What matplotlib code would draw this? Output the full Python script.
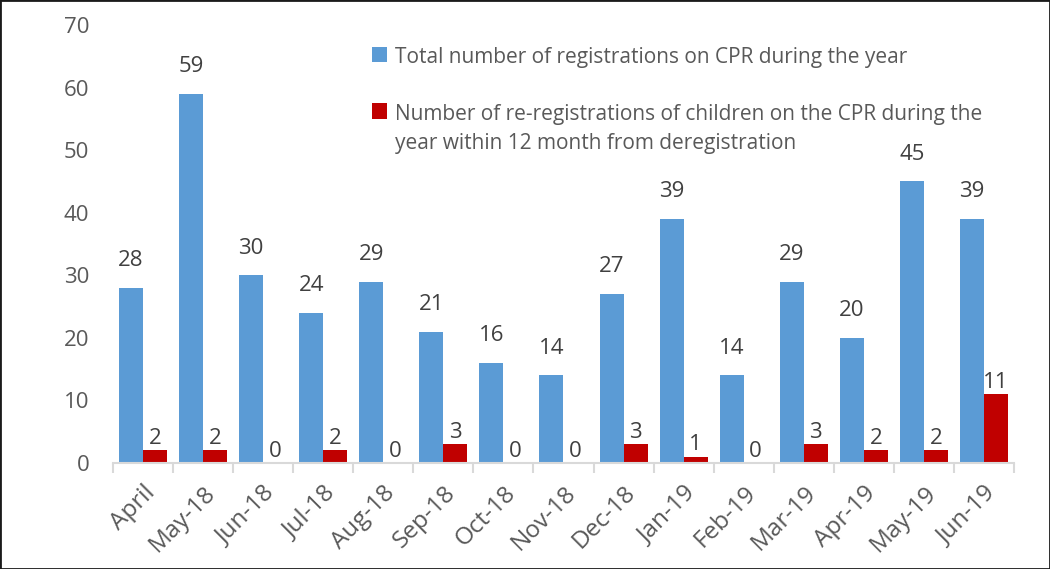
import matplotlib
matplotlib.use("Agg")
import matplotlib.pyplot as plt
import numpy as np
from matplotlib.patches import Rectangle

months = ["April", "May-18", "Jun-18", "Jul-18", "Aug-18", "Sep-18", "Oct-18", "Nov-18",
          "Dec-18", "Jan-19", "Feb-19", "Mar-19", "Apr-19", "May-19", "Jun-19"]
total_reg = [28, 59, 30, 24, 29, 21, 16, 14, 27, 39, 14, 29, 20, 45, 39]
re_reg = [2, 2, 0, 2, 0, 3, 0, 0, 3, 1, 0, 3, 2, 2, 11]
series_names = ["Total number of registrations on CPR during the year",
                "Number of re-registrations of children on the CPR during the\nyear within 12 month from deregistration"]
yticks = [0, 10, 20, 30, 40, 50, 60, 70]

plt.rcParams['font.family'] = ['Open Sans', 'DejaVu Sans']

W, H = 1050, 569
fig = plt.figure(figsize=(W/100, H/100), dpi=100)
ax = fig.add_axes([113/W, 1 - 463/H, (1014-113)/W, (463-25)/H])

x = np.arange(len(months))
w = 0.4
blue = "#5B9BD5"
red = "#C00000"
colors = [blue, red]
b1 = ax.bar(x - w/2, total_reg, w, color=blue, label=series_names[0])
b2 = ax.bar(x + w/2, re_reg, w, color=red, label=series_names[1])

lab_color = "#404040"
for rect, v in zip(b1, total_reg):
    ax.annotate(str(v), (rect.get_x() + rect.get_width()/2, rect.get_height()),
                xytext=(0, 12), textcoords="offset points", ha="center", va="bottom",
                fontsize=16, color=lab_color)
for rect, v in zip(b2, re_reg):
    ax.annotate(str(v), (rect.get_x() + rect.get_width()/2, rect.get_height()),
                xytext=(0, 1), textcoords="offset points", ha="center", va="bottom",
                fontsize=16, color=lab_color)

ax.set_xlim(-0.5, len(months) - 0.5)
ax.set_ylim(0, 70)
ax.set_yticks(yticks)
ax.tick_params(axis='y', length=0, labelsize=16, labelcolor="#595959", pad=17)
ax.set_xticks(x)
ax.set_xticklabels(months, rotation=45, ha="right", rotation_mode="anchor", fontsize=17.5, color="#595959")
ax.tick_params(axis='x', which='major', length=0, pad=13)
ax.set_xticks(np.arange(-0.5, len(months), 1), minor=True)
ax.tick_params(axis='x', which='minor', length=7, color="#D9D9D9", width=1.5)
for s in ["top", "right", "left"]:
    ax.spines[s].set_visible(False)
ax.spines["bottom"].set_color("#D9D9D9")
ax.spines["bottom"].set_linewidth(1.5)

# legend drawn manually so the marker aligns with the first line of each entry
leg_rows = [54, 111]  # pixel y of first-line centres
line_gap = 29
for name, col, yc in zip(series_names, colors, leg_rows):
    fig.patches.append(Rectangle((372/W, 1 - (yc + 7.5)/H), 15/W, 15/H,
                                 transform=fig.transFigure, facecolor=col, edgecolor="none"))
    for i, line in enumerate(name.split("\n")):
        fig.text(395/W, 1 - (yc + 1 + i*line_gap)/H, line, ha="left", va="center_baseline",
                 fontsize=15, color="#595959")

fig.patches.append(Rectangle((0, 0), 1, 1, transform=fig.transFigure, fill=False,
                             edgecolor="#1a1a1a", linewidth=2))

fig.savefig("out.png", dpi=100)
